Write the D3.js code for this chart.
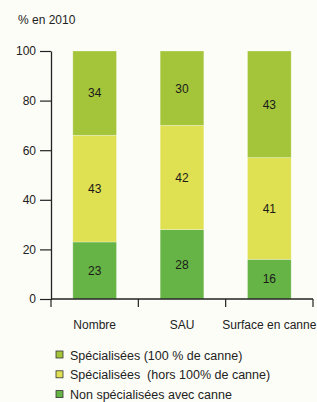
<!DOCTYPE html>
<html>
<head>
<meta charset="utf-8">
<script src="https://cdn.jsdelivr.net/npm/d3@7"></script>
<style>
  body { margin: 0; background: #fdfdf7; }
  svg { display: block; font-family: "Liberation Sans", Arial, sans-serif; }
</style>
</head>
<body>
<svg id="chart" width="317" height="402"></svg>
<script>
// === Data ===
const categories = ['Nombre', 'SAU', 'Surface en canne'];
const seriesNames = [
  'Non spécialisées avec canne',
  'Spécialisées  (hors 100% de canne)',
  'Spécialisées (100 % de canne)'
];
const nonSpecialisees = [23, 28, 16];
const specHors100 = [43, 42, 41];
const spec100 = [34, 30, 43];
const yTicks = [0, 20, 40, 60, 80, 100];

const COLORS = ['#66b445', '#dfe052', '#a4c53a'];

const svg = d3.select('#chart');
const margin = { left: 51, right: 4, top: 51, bottom: 103 };
const W = 317, H = 402;

const x = d3.scaleBand()
  .domain(categories)
  .range([margin.left, W - margin.right])
  .paddingInner(0.5)
  .paddingOuter(0.25);

const y = d3.scaleLinear()
  .domain([0, 100])
  .range([H - margin.bottom, margin.top]);

// --- Stack ---
const table = categories.map((c, i) => ({
  cat: c, s0: nonSpecialisees[i], s1: specHors100[i], s2: spec100[i]
}));
const stacked = d3.stack().keys(['s0', 's1', 's2'])(table);

const layer = svg.append('g').selectAll('g')
  .data(stacked)
  .join('g')
  .attr('fill', (d, i) => COLORS[i]);

layer.selectAll('rect')
  .data(d => d)
  .join('rect')
  .attr('x', d => x(d.data.cat))
  .attr('y', d => y(d[1]))
  .attr('width', x.bandwidth())
  .attr('height', d => y(d[0]) - y(d[1]))
  .attr('stroke', '#ffffff')
  .attr('stroke-opacity', 0.35)
  .attr('stroke-width', 0.8);

layer.selectAll('text')
  .data(d => d)
  .join('text')
  .attr('x', d => x(d.data.cat) + x.bandwidth() / 2)
  .attr('y', d => (y(d[0]) + y(d[1])) / 2)
  .attr('dy', '0.36em')
  .attr('text-anchor', 'middle')
  .attr('font-size', 12)
  .attr('fill', '#1a1a1a')
  .text(d => d[1] - d[0]);

// --- Y axis ---
const yAxis = svg.append('g')
  .attr('transform', `translate(${margin.left},0)`)
  .call(d3.axisLeft(y).tickValues(yTicks).tickSize(11).tickPadding(4).tickSizeOuter(0));
yAxis.select('.domain').attr('stroke', '#222').attr('stroke-width', 1.3);
yAxis.selectAll('.tick line').attr('stroke', '#222').attr('stroke-width', 1.2);
yAxis.selectAll('.tick text').attr('font-size', 12).attr('fill', '#222')
  .attr('font-family', '"Liberation Sans", Arial, sans-serif');

// --- X axis (ticks between bands) ---
const xAxisY = y(0);
const gap = (x.step() - x.bandwidth()) / 2;
const tickXs = [margin.left].concat(categories.map(c => Math.min(x(c) + x.bandwidth() + gap, W - margin.right)));
const xAxis = svg.append('g');
xAxis.append('line')
  .attr('x1', margin.left).attr('x2', W - margin.right)
  .attr('y1', xAxisY).attr('y2', xAxisY)
  .attr('stroke', '#222').attr('stroke-width', 1.3);
xAxis.selectAll('line.tk')
  .data(tickXs)
  .join('line')
  .attr('class', 'tk')
  .attr('x1', d => d).attr('x2', d => d)
  .attr('y1', xAxisY).attr('y2', xAxisY + 8)
  .attr('stroke', '#222').attr('stroke-width', 1.2);
xAxis.selectAll('text')
  .data(categories)
  .join('text')
  .attr('x', d => x(d) + x.bandwidth() / 2)
  .attr('y', xAxisY + 30)
  .attr('text-anchor', 'middle')
  .attr('font-size', 12)
  .attr('fill', '#222')
  .text(d => d);

// --- Title ---
svg.append('text')
  .attr('x', 18).attr('y', 24)
  .attr('font-size', 12)
  .attr('fill', '#222')
  .text('% en 2010');

// --- Legend (top layer first) ---
const legendItems = [2, 1, 0];
const legend = svg.append('g').attr('transform', 'translate(56,351)');
const item = legend.selectAll('g')
  .data(legendItems)
  .join('g')
  .attr('transform', (d, i) => `translate(0,${i * 19.8})`);
item.append('rect')
  .attr('width', 7).attr('height', 7)
  .attr('fill', d => COLORS[d])
  .attr('stroke', '#333').attr('stroke-width', 0.8);
item.append('text')
  .attr('x', 14).attr('y', 4)
  .attr('dy', '0.36em')
  .attr('font-size', 12.5)
  .attr('fill', '#222')
  .style('white-space', 'pre')
  .text(d => seriesNames[d]);
</script>
</body>
</html>
